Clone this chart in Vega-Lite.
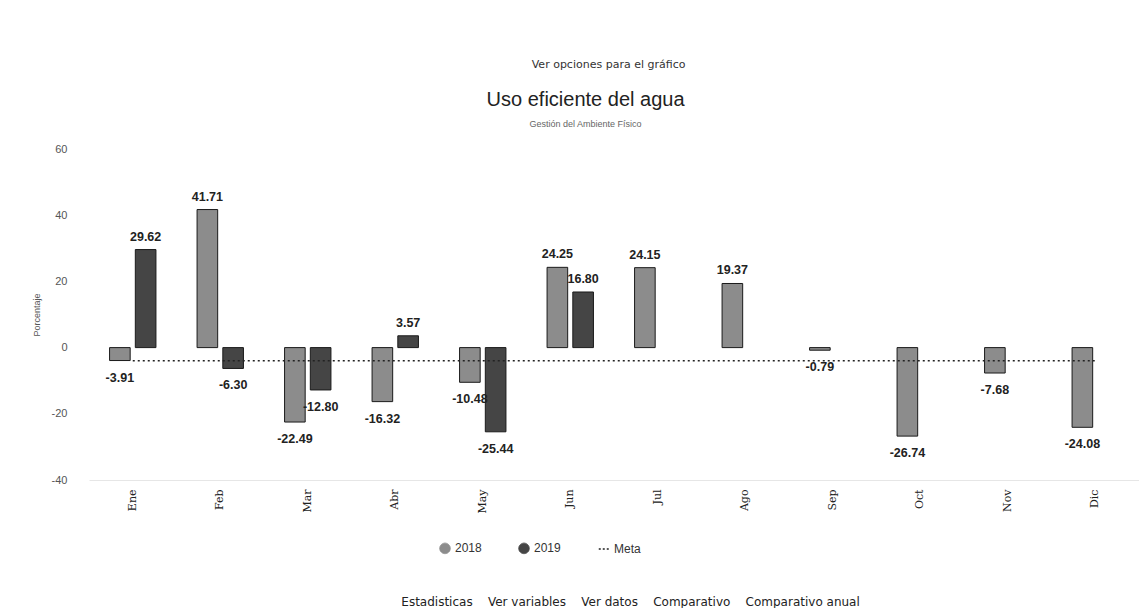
{
  "$schema": "https://vega.github.io/schema/vega-lite/v6.json",
  "padding": {"left": 32, "top": 59, "right": 0, "bottom": 0},
  "background": "white",
  "config": {
    "view": {"stroke": null},
    "font": "Liberation Sans",
    "concat": {"spacing": 0},
    "locale": {"number": {"decimal": ".", "thousands": ",", "grouping": [3], "currency": ["$", ""], "minus": "-"}}
  },
  "datasets": {
    "barras": [
      {"mes": "Ene", "serie": "2018", "valor": -3.91},
      {"mes": "Ene", "serie": "2019", "valor": 29.62},
      {"mes": "Feb", "serie": "2018", "valor": 41.71},
      {"mes": "Feb", "serie": "2019", "valor": -6.30},
      {"mes": "Mar", "serie": "2018", "valor": -22.49},
      {"mes": "Mar", "serie": "2019", "valor": -12.80},
      {"mes": "Abr", "serie": "2018", "valor": -16.32},
      {"mes": "Abr", "serie": "2019", "valor": 3.57},
      {"mes": "May", "serie": "2018", "valor": -10.48},
      {"mes": "May", "serie": "2019", "valor": -25.44},
      {"mes": "Jun", "serie": "2018", "valor": 24.25},
      {"mes": "Jun", "serie": "2019", "valor": 16.80},
      {"mes": "Jul", "serie": "2018", "valor": 24.15},
      {"mes": "Ago", "serie": "2018", "valor": 19.37},
      {"mes": "Sep", "serie": "2018", "valor": -0.79},
      {"mes": "Oct", "serie": "2018", "valor": -26.74},
      {"mes": "Nov", "serie": "2018", "valor": -7.68},
      {"mes": "Dic", "serie": "2018", "valor": -24.08}
    ],
    "meta": [
      {"mes": "Ene", "meta": -4},
      {"mes": "Feb", "meta": -4},
      {"mes": "Mar", "meta": -4},
      {"mes": "Abr", "meta": -4},
      {"mes": "May", "meta": -4},
      {"mes": "Jun", "meta": -4},
      {"mes": "Jul", "meta": -4},
      {"mes": "Ago", "meta": -4},
      {"mes": "Sep", "meta": -4},
      {"mes": "Oct", "meta": -4},
      {"mes": "Nov", "meta": -4},
      {"mes": "Dic", "meta": -4}
    ]
  },
  "title": {
    "text": "Estadisticas \u00a0\u00a0\u00a0Ver variables \u00a0\u00a0\u00a0Ver datos \u00a0\u00a0\u00a0Comparativo \u00a0\u00a0\u00a0Comparativo anual",
    "orient": "bottom",
    "anchor": "middle",
    "dx": 45,
    "fontSize": 12,
    "fontWeight": "normal",
    "font": "DejaVu Sans",
    "color": "#222",
    "offset": 41
  },
  "vconcat": [
    {
      "title": {
        "text": "Ver opciones para el gráfico",
        "anchor": "middle",
        "dx": 23,
        "fontSize": 11,
        "fontWeight": "normal",
        "font": "DejaVu Sans",
        "color": "#333",
        "offset": 20
      },
      "vconcat": [
        {
          "width": 1050,
          "height": 331,
          "title": {
            "text": "Uso eficiente del agua",
            "subtitle": "Gestión del Ambiente Físico",
            "anchor": "middle",
            "frame": "bounds",
            "fontSize": 20,
            "fontWeight": "normal",
            "color": "#222",
            "subtitleFontSize": 9,
            "subtitleColor": "#666",
            "subtitlePadding": 10,
            "offset": 14
          },
          "encoding": {
            "x": {
              "field": "mes",
              "type": "nominal",
              "sort": ["Ene", "Feb", "Mar", "Abr", "May", "Jun", "Jul", "Ago", "Sep", "Oct", "Nov", "Dic"],
              "scale": {"paddingInner": 0.47, "paddingOuter": 0.235},
              "axis": {
                "title": null,
                "labelAngle": 270,
                "labelAlign": "right",
                "labelBaseline": "middle",
                "labelFontSize": 11,
                "labelFont": "DejaVu Serif",
                "labelColor": "#222",
                "labelPadding": 9,
                "ticks": false,
                "domainColor": "#e6e6e6"
              }
            },
            "y": {
              "type": "quantitative",
              "scale": {"domain": [-40, 60], "nice": false},
              "axis": {
                "title": "Porcentaje",
                "titleFontSize": 9,
                "titleFontWeight": "normal",
                "titleColor": "#555555",
                "titlePadding": 10,
                "values": [-40, -20, 0, 20, 40, 60],
                "labelFontSize": 11,
                "labelColor": "#555555",
                "labelPadding": 22,
                "ticks": false,
                "domain": false,
                "grid": false
              }
            }
          },
          "layer": [
            {
              "data": {"name": "barras"},
              "mark": {"type": "bar", "stroke": "#1a1a1a", "strokeWidth": 1},
              "encoding": {
                "xOffset": {"field": "serie", "type": "nominal", "scale": {"paddingInner": 0.2}},
                "y": {"field": "valor", "type": "quantitative"},
                "color": {
                  "field": "serie",
                  "type": "nominal",
                  "scale": {"domain": ["2018", "2019", "Meta"], "range": ["#8c8c8c", "#454545", "#222222"]},
                  "legend": {
                    "title": null,
                    "orient": "none",
                    "legendX": 350,
                    "legendY": 393,
                    "direction": "horizontal",
                    "symbolType": "circle",
                    "labelFontSize": 12,
                    "labelColor": "#333",
                    "symbolSize": 110,
                    "columnPadding": 34,
                    "encode": {
                      "symbols": {
                        "update": {
                          "shape": {"signal": "datum.value === 'Meta' ? 'stroke' : 'circle'"},
                          "strokeDash": {"signal": "datum.value === 'Meta' ? [2, 2] : [1, 0]"},
                          "stroke": {"value": "#222"},
                          "strokeWidth": {"signal": "datum.value === 'Meta' ? 1.5 : 1"},
                          "fill": {"signal": "datum.value === 'Meta' ? 'transparent' : scale('color', datum.value)"}
                        }
                      }
                    }
                  }
                }
              }
            },
            {
              "data": {"name": "barras"},
              "transform": [{"filter": "datum.valor >= 0"}],
              "mark": {"type": "text", "baseline": "middle", "dy": -13, "fontSize": 12.5, "fontWeight": "bold", "color": "#222"},
              "encoding": {
                "xOffset": {"field": "serie", "type": "nominal", "scale": {"paddingInner": 0.2}},
                "y": {"field": "valor", "type": "quantitative"},
                "text": {"field": "valor", "type": "quantitative", "format": ".2f"}
              }
            },
            {
              "data": {"name": "barras"},
              "transform": [{"filter": "datum.valor < 0"}],
              "mark": {"type": "text", "baseline": "middle", "dy": 17, "fontSize": 12.5, "fontWeight": "bold", "color": "#222"},
              "encoding": {
                "xOffset": {"field": "serie", "type": "nominal", "scale": {"paddingInner": 0.2}},
                "y": {"field": "valor", "type": "quantitative"},
                "text": {"field": "valor", "type": "quantitative", "format": ".2f"}
              }
            },
            {
              "data": {"name": "meta"},
              "mark": {"type": "line", "strokeDash": [2, 3], "strokeWidth": 1.5},
              "encoding": {
                "y": {"field": "meta", "type": "quantitative"},
                "color": {
                  "datum": "Meta",
                  "legend": {
                    "title": null,
                    "orient": "none",
                    "legendX": 350,
                    "legendY": 393,
                    "direction": "horizontal",
                    "symbolType": "circle",
                    "labelFontSize": 12,
                    "labelColor": "#333",
                    "symbolSize": 110,
                    "columnPadding": 34,
                    "encode": {
                      "symbols": {
                        "update": {
                          "shape": {"signal": "datum.value === 'Meta' ? 'stroke' : 'circle'"},
                          "strokeDash": {"signal": "datum.value === 'Meta' ? [2, 2] : [1, 0]"},
                          "stroke": {"value": "#222"},
                          "strokeWidth": {"signal": "datum.value === 'Meta' ? 1.5 : 1"},
                          "fill": {"signal": "datum.value === 'Meta' ? 'transparent' : scale('color', datum.value)"}
                        }
                      }
                    }
                  }
                }
              }
            }
          ]
        }
      ]
    }
  ]
}
